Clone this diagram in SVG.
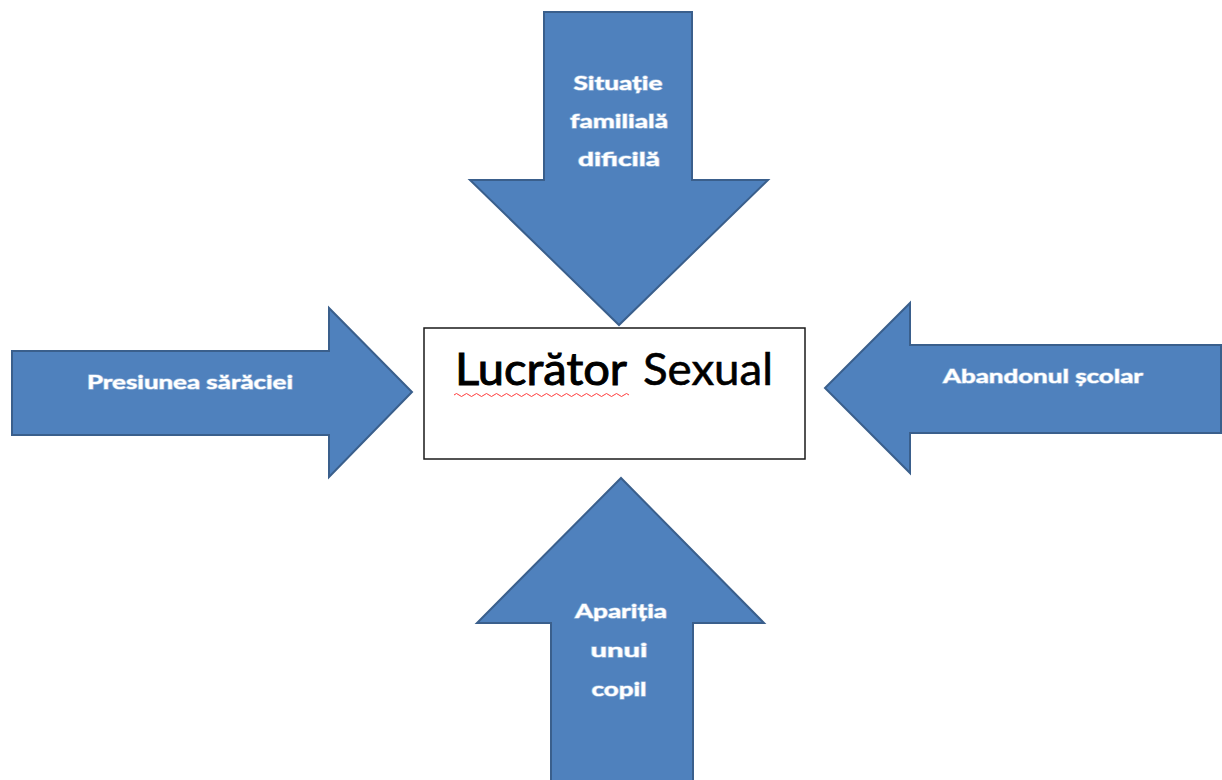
<svg xmlns="http://www.w3.org/2000/svg" width="1222" height="780" viewBox="0 0 1222 780">
<style>
.arrow{fill:#4F81BD;stroke:#3A5F8C;stroke-width:2;stroke-linejoin:miter}
.lbl{font-family:Lato,"Open Sans","Liberation Sans",sans-serif;font-weight:bold;font-size:19px;fill:#FFFFFF;text-anchor:middle;stroke:#A9C1E0;stroke-width:1.2;paint-order:stroke}
.title{font-family:Lato,"Open Sans","Liberation Sans",sans-serif;font-size:45px;fill:#000000;stroke:#000000;text-anchor:start}
</style>
<rect width="1222" height="780" fill="#FFFFFF"/>
<g id="connectors">
<g id="arrow-top">
<polygon class="arrow" points="544,12 692,12 692,180 768,180 619,325 470,180 544,180"/>
<text class="lbl" x="618" y="90" textLength="89" lengthAdjust="spacingAndGlyphs">Situație</text>
<text class="lbl" x="619" y="128" textLength="98" lengthAdjust="spacingAndGlyphs">familială</text>
<text class="lbl" x="619" y="166" textLength="82" lengthAdjust="spacingAndGlyphs">dificilă</text>
</g>
<g id="arrow-left">
<polygon class="arrow" points="12,351 329,351 329,308 412,392 329,477 329,435 12,435"/>
<text class="lbl" x="190" y="389" textLength="206" lengthAdjust="spacingAndGlyphs">Presiunea sărăciei</text>
</g>
<g id="arrow-right">
<polygon class="arrow" points="1221,345 910,345 910,303 825,388 910,473 910,433 1221,433"/>
<text class="lbl" x="1043" y="383" textLength="200" lengthAdjust="spacingAndGlyphs">Abandonul școlar</text>
</g>
<g id="arrow-bottom">
<polygon class="arrow" points="551,781 551,623 477,623 621,478 764,623 693,623 693,781"/>
<text class="lbl" x="621" y="618" textLength="92" lengthAdjust="spacingAndGlyphs">Apariția</text>
<text class="lbl" x="619" y="657" textLength="57" lengthAdjust="spacingAndGlyphs">unui</text>
<text class="lbl" x="619" y="696" textLength="55" lengthAdjust="spacingAndGlyphs">copil</text>
</g>
</g>
<g id="node-center">
<rect x="424" y="328" width="381" height="131" fill="#FFFFFF" stroke="#1A1A1A" stroke-width="1.5"/>
<text class="title" y="385"><tspan x="455" textLength="172" lengthAdjust="spacingAndGlyphs" stroke-width="1">Lucrător</tspan><tspan x="643" textLength="130" lengthAdjust="spacingAndGlyphs" stroke-width="0.6">Sexual</tspan></text>
<path d="M454,395 q2.5,-3 5,0 t5,0 t5,0 t5,0 t5,0 t5,0 t5,0 t5,0 t5,0 t5,0 t5,0 t5,0 t5,0 t5,0 t5,0 t5,0 t5,0 t5,0 t5,0 t5,0 t5,0 t5,0 t5,0 t5,0 t5,0 t5,0 t5,0 t5,0 t5,0 t5,0 t5,0 t5,0 t5,0 t5,0 t5,0" fill="none" stroke="#FF3B3B" stroke-width="1"/>
</g>
</svg>
